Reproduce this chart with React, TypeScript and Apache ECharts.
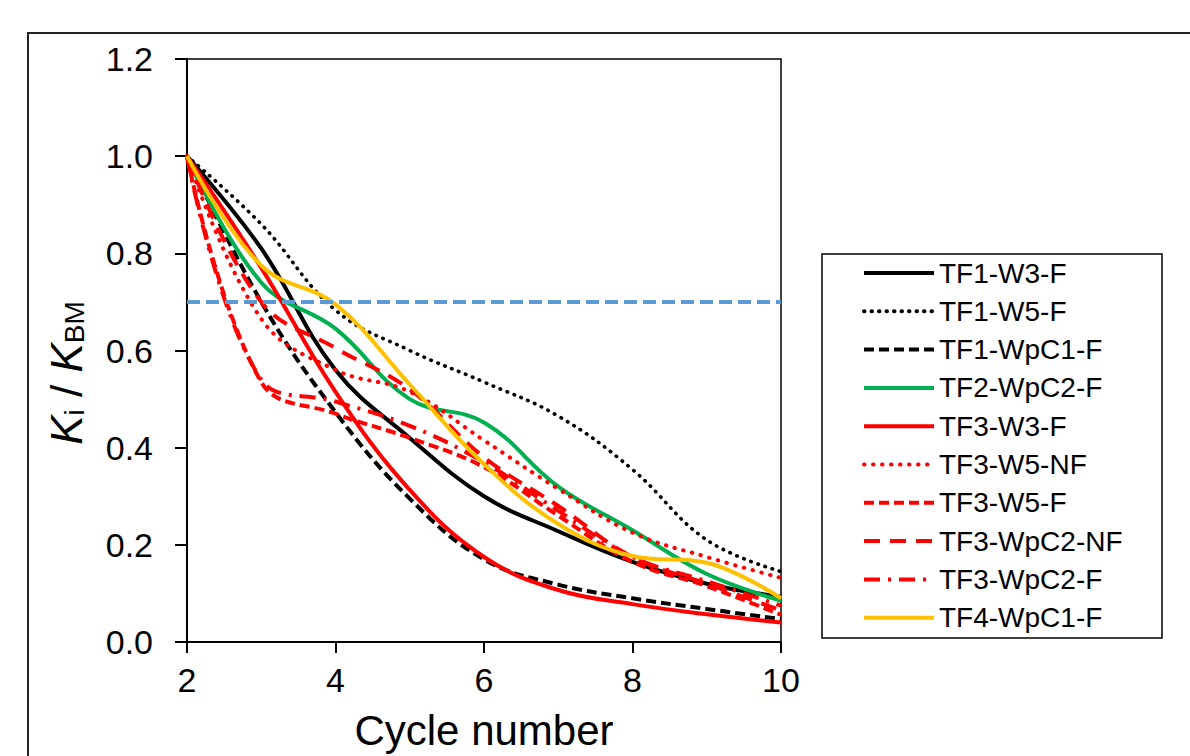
import React, { useEffect, useRef } from "react";
import * as echarts from "echarts";

const cycles = [2, 3, 4, 5, 6, 7, 8, 9, 10];
const xTicks = [2, 4, 6, 8, 10];
const yTicks = [0, 0.2, 0.4, 0.6, 0.8, 1.0, 1.2];

const seriesNames = [
  "TF1-W3-F",
  "TF1-W5-F",
  "TF1-WpC1-F",
  "TF2-WpC2-F",
  "TF3-W3-F",
  "TF3-W5-NF",
  "TF3-W5-F",
  "TF3-WpC2-NF",
  "TF3-WpC2-F",
  "TF4-WpC1-F",
];

const tf1W3F = [1.0, 0.81, 0.56, 0.42, 0.3, 0.228, 0.165, 0.12, 0.093];
const tf1W5F = [1.0, 0.86, 0.683, 0.6, 0.535, 0.465, 0.355, 0.21, 0.145];
const tf1WpC1F = [1.0, 0.7, 0.473, 0.295, 0.17, 0.118, 0.09, 0.068, 0.047];
const tf2WpC2F = [1.0, 0.74, 0.645, 0.5, 0.452, 0.32, 0.23, 0.14, 0.085];
const tf3W3F = [1.0, 0.77, 0.515, 0.313, 0.175, 0.107, 0.078, 0.057, 0.04];
const tf3W5NF = [1.0, 0.665, 0.56, 0.515, 0.415, 0.315, 0.225, 0.175, 0.132];
const tf3W5F = [1.0, 0.535, 0.47, 0.42, 0.36, 0.26, 0.165, 0.115, 0.056];
const tf3WpC2NF = [1.0, 0.7, 0.605, 0.52, 0.38, 0.28, 0.175, 0.12, 0.065];
const tf3WpC2F = [1.0, 0.54, 0.495, 0.445, 0.37, 0.27, 0.175, 0.125, 0.075];
const tf4WpC1F = [1.0, 0.775, 0.695, 0.53, 0.366, 0.243, 0.177, 0.163, 0.09];

const threshold = 0.7;

const seriesValues = [
  tf1W3F,
  tf1W5F,
  tf1WpC1F,
  tf2WpC2F,
  tf3W3F,
  tf3W5NF,
  tf3W5F,
  tf3WpC2NF,
  tf3WpC2F,
  tf4WpC1F,
];

const FONT = "'Liberation Sans', Arial, sans-serif";

const styles: any[] = [
  { color: "#000000", width: 4, type: "solid" },
  { color: "#000000", width: 3.6, type: [0.5, 7], cap: "round" },
  { color: "#000000", width: 4, type: [10, 5] },
  { color: "#00B050", width: 4, type: "solid" },
  { color: "#FF0000", width: 4, type: "solid" },
  { color: "#FF0000", width: 4, type: [0.5, 8.5], cap: "round" },
  { color: "#FF0000", width: 4, type: [10, 5] },
  { color: "#FF0000", width: 4, type: [16, 10] },
  { color: "#FF0000", width: 4, type: [16, 8, 3, 8] },
  { color: "#FFC000", width: 4, type: "solid" },
];

export default function App() {
  const ref = useRef<HTMLDivElement>(null);

  useEffect(() => {
    if (!ref.current) return;
    const chart = echarts.init(ref.current, undefined, { renderer: "svg" });

    const series: any[] = seriesNames.map((name, i) => ({
      name,
      type: "line",
      smooth: 0.4,
      symbol: "none",
      data: cycles.map((c, j) => [c, seriesValues[i][j]]),
      lineStyle: {
        color: styles[i].color,
        width: styles[i].width,
        type: styles[i].type,
        cap: styles[i].cap || "butt",
      },
      itemStyle: { color: styles[i].color },
      z: 2 + i * 0.01,
    }));

    series.push({
      name: "threshold",
      type: "line",
      symbol: "none",
      data: [
        [cycles[0], threshold],
        [cycles[cycles.length - 1], threshold],
      ],
      lineStyle: { color: "#5B9BD5", width: 4, type: [13, 6] },
      z: 3,
    });

    chart.setOption({
      animation: false,
      backgroundColor: "#ffffff",
      grid: {
        left: 187,
        top: 59,
        width: 594,
        height: 583,
        show: true,
        borderColor: "#000000",
        borderWidth: 1.5,
      },
      xAxis: {
        type: "value",
        min: xTicks[0],
        max: xTicks[xTicks.length - 1],
        interval: 2,
        axisLine: { show: true, lineStyle: { color: "#000", width: 2 } },
        axisTick: { show: true, inside: false, length: 11, lineStyle: { color: "#000", width: 2 } },
        axisLabel: { color: "#000", fontSize: 34, fontFamily: FONT, margin: 21 },
        splitLine: { show: false },
      },
      yAxis: {
        type: "value",
        min: yTicks[0],
        max: yTicks[yTicks.length - 1],
        interval: 0.2,
        axisLine: { show: true, lineStyle: { color: "#000", width: 2 } },
        axisTick: { show: true, inside: false, length: 12, lineStyle: { color: "#000", width: 2 } },
        axisLabel: {
          color: "#000",
          fontSize: 34,
          fontFamily: FONT,
          margin: 34,
          formatter: (v: number) => v.toFixed(1),
        },
        splitLine: { show: false },
      },
      legend: {
        data: seriesNames,
        orient: "vertical",
        left: 862,
        top: 258,
        padding: 0,
        itemWidth: 70,
        itemHeight: 14,
        itemGap: 8.3,
        itemStyle: { color: "rgba(0,0,0,0)", borderColor: "rgba(0,0,0,0)", borderWidth: 0, opacity: 0 },
        lineStyle: { width: 4 },
        textStyle: { color: "#000", fontSize: 28, fontFamily: FONT, lineHeight: 30 },
        selectedMode: false,
      },
      graphic: [
        {
          type: "rect",
          shape: { x: 28, y: 33, width: 1200, height: 800 },
          style: { fill: "none", stroke: "#222", lineWidth: 2 },
          silent: true,
        },
        {
          type: "rect",
          shape: { x: 822, y: 254, width: 340, height: 384 },
          style: { fill: "none", stroke: "#000", lineWidth: 1.5 },
          silent: true,
        },
        {
          type: "text",
          x: 484,
          y: 730,
          style: {
            text: "Cycle number",
            fontSize: 42,
            fontFamily: FONT,
            fill: "#000",
            align: "center",
            verticalAlign: "middle",
          },
        },
        {
          type: "text",
          x: 60,
          y: 373,
          rotation: Math.PI / 2,
          style: {
            text: "{k|K}{s|i}{n| / }{k|K}{s|BM}",
            align: "center",
            verticalAlign: "middle",
            fill: "#000",
            rich: {
              k: { fontSize: 44, fontStyle: "italic", fontFamily: FONT, lineHeight: 56, verticalAlign: "bottom", fill: "#000" },
              n: { fontSize: 44, fontFamily: FONT, lineHeight: 56, verticalAlign: "bottom", fill: "#000" },
              s: { fontSize: 28, fontFamily: FONT, lineHeight: 25, verticalAlign: "bottom", fill: "#000" },
            },
          },
        },
      ],
      series,
    });

    return () => chart.dispose();
  }, []);

  return (
    <div
      ref={ref}
      style={{ position: "fixed", left: 0, top: 0, width: 1190, height: 756, background: "#fff" }}
    />
  );
}
